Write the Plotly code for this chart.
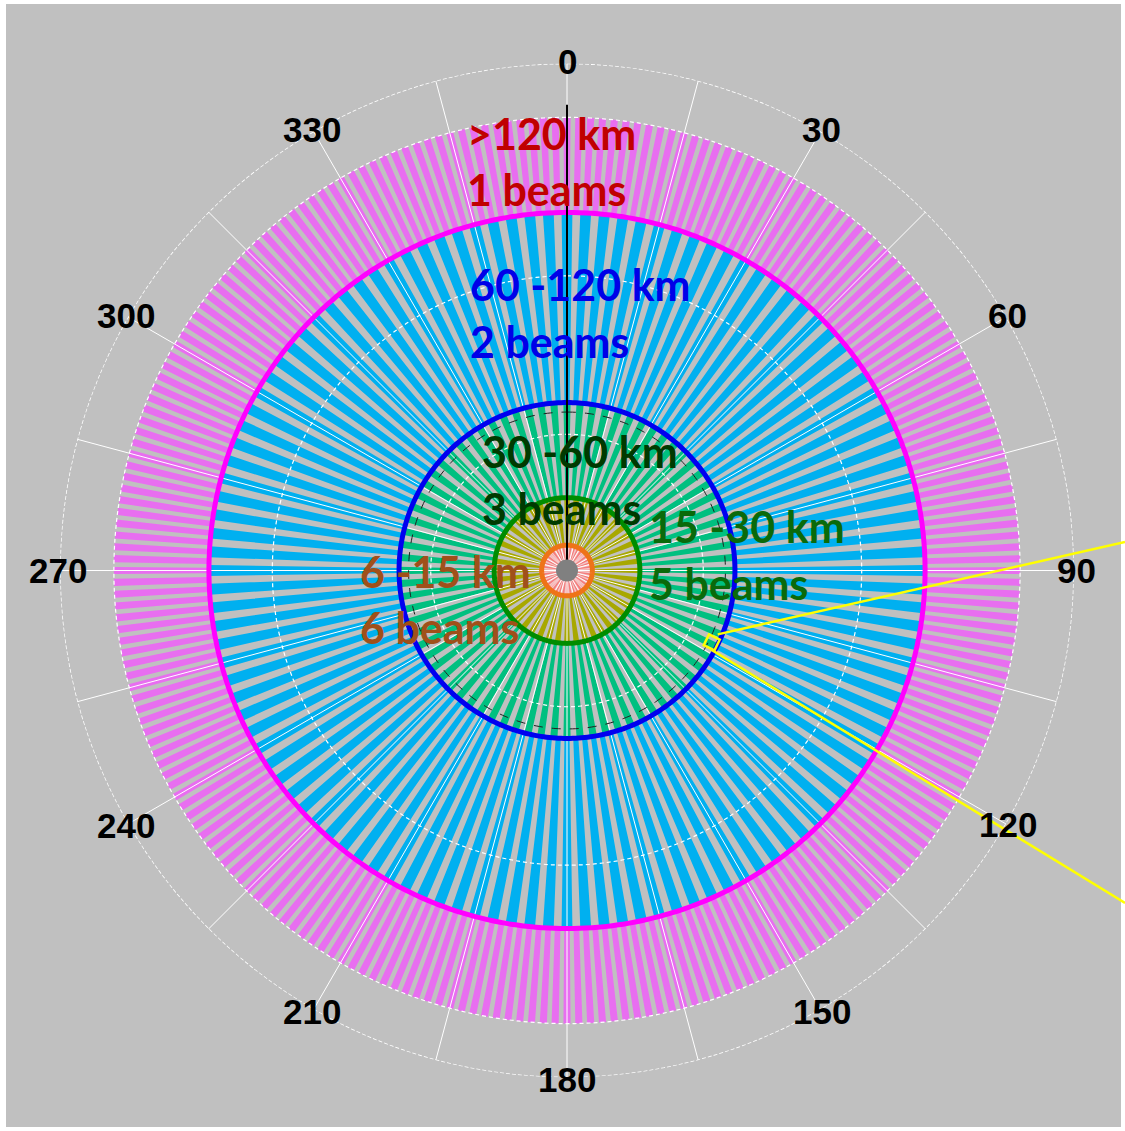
import math
import plotly.graph_objects as go

# ---- data -------------------------------------------------------------
band_inner_km = [6, 15, 30, 60, 120]
band_outer_km = [15, 30, 60, 120, 150]
beams_per_cell = [6, 5, 3, 2, 1]
band_colors = ["#F47C7C", "#A8A800", "#00C080", "#00B0F0", "#E86EF0"]
band_names = ["6 -15 km", "15 -30 km", "30 -60 km", "60 -120 km", ">120 km"]
beam_step_deg = 1.5          # angular width of one beam
bar_fill = [0.55, 0.6, 0.55, 0.58, 0.6]   # coloured share of each cell

ring_km = [15, 30, 60, 120]
ring_colors = ["#EE7318", "#008C00", "#0000F0", "#FF00FF"]
grid_km = [50, 100, 150]
spoke_deg = list(range(0, 360, 15))
angle_labels = list(range(0, 360, 30))
inner_dashed_km = 57
pointer_km = 154
marker_km, marker_deg = 58, 116.4

label_lines = [
    (">120 km", "1 beams", "#C00000"),
    ("60 -120 km", "2 beams", "#0000E8"),
    ("30 -60 km", "3 beams", "#003A00"),
    ("15 -30 km", "5 beams", "#0A6A0A"),
    ("6 -15 km", "6 beams", "#A0501A"),
]

# ---- page geometry (pixels) --------------------------------------------
W, H = 1125, 1131
CX, CY, RPX = 567, 570.5, 507
R_MIN, R_MAX = 7, 167


def to_paper(px, py):
    return px / W, 1 - py / H


def polar_px(r_km, deg):
    rp = (r_km - R_MIN) / (R_MAX - R_MIN) * RPX
    a = math.radians(deg)
    return CX + rp * math.sin(a), CY - rp * math.cos(a)


fig = go.Figure()

# beam cells of every range band
for lo, hi, nb, col, name, fill in zip(band_inner_km, band_outer_km, beams_per_cell,
                                       band_colors, band_names, bar_fill):
    cell = beam_step_deg * nb
    n = int(round(360 / cell))
    thetas = [i * cell for i in range(n)]
    if lo == 6:
        fig.add_trace(go.Barpolar(theta=[0], r=[hi - lo], base=[lo], width=[360],
                                  marker=dict(color="#F2C9C9", line=dict(width=0)),
                                  hoverinfo="skip"))
    fig.add_trace(go.Barpolar(theta=thetas, r=[hi - lo] * n, base=[lo] * n,
                              width=[cell * fill] * n, name=name,
                              marker=dict(color=col, line=dict(width=0))))

circle_theta = [i for i in range(0, 361)]

# white spokes and dashed range circles
sp_r, sp_t = [], []
for d in spoke_deg:
    sp_r += [R_MIN, R_MAX, None]
    sp_t += [d, d, None]
fig.add_trace(go.Scatterpolar(r=sp_r, theta=sp_t, mode="lines",
                              line=dict(color="white", width=1), hoverinfo="skip"))
for g in grid_km:
    fig.add_trace(go.Scatterpolar(r=[g] * len(circle_theta), theta=circle_theta,
                                  mode="lines", line=dict(color="white", width=1.2, dash="4px,3px"),
                                  hoverinfo="skip"))
fig.add_trace(go.Scatterpolar(r=[R_MAX] * len(circle_theta), theta=circle_theta,
                              mode="lines", cliponaxis=False,
                              line=dict(color="white", width=1.6, dash="4px,2px"),
                              hoverinfo="skip"))
fig.add_trace(go.Scatterpolar(r=[inner_dashed_km] * len(circle_theta), theta=circle_theta,
                              mode="lines", line=dict(color="#202020", width=1, dash="dash"),
                              hoverinfo="skip"))

# band boundary rings
for rk, rc in zip(ring_km, ring_colors):
    fig.add_trace(go.Scatterpolar(r=[rk] * len(circle_theta), theta=circle_theta,
                                  mode="lines", line=dict(color=rc, width=5),
                                  hoverinfo="skip"))

# pointer and centre disk
fig.add_trace(go.Scatterpolar(r=[R_MIN, pointer_km], theta=[0, 0], mode="lines",
                              line=dict(color="black", width=2), hoverinfo="skip"))
fig.add_trace(go.Scatterpolar(r=[R_MIN], theta=[0], mode="markers",
                              marker=dict(color="#808080", size=22), hoverinfo="skip"))
fig.add_trace(go.Scatterpolar(r=[marker_km], theta=[marker_deg], mode="markers",
                              marker=dict(symbol="square-open", size=12, angle=26,
                                          color="#FFFF00", line=dict(width=2.5, color="#FFFF00")),
                              hoverinfo="skip"))

# callout lines from the selected cell
mx, my = polar_px(marker_km, marker_deg)
callouts = [((mx + 6, my - 8), (W, 542)), ((mx - 1, my + 7), (W, 903))]
shapes = [dict(type="rect", xref="paper", yref="paper", x0=6 / W, x1=1121 / W,
               y0=1 - 1127 / H, y1=1 - 4 / H, fillcolor="#C0C0C0",
               line=dict(width=0), layer="below")]
for (x0, y0), (x1, y1) in callouts:
    a0, b0 = to_paper(x0, y0)
    a1, b1 = to_paper(x1, y1)
    shapes.append(dict(type="line", xref="paper", yref="paper", x0=a0, y0=b0,
                       x1=a1, y1=b1, line=dict(color="#FFFF00", width=2.5)))

annotations = []
# angle labels around the outer circle
for d in angle_labels:
    a = math.radians(d)
    px, py = CX + (RPX + 2) * math.sin(a), CY - (RPX + 2) * math.cos(a)
    x, y = to_paper(px, py)
    annotations.append(dict(x=x, y=y, xref="paper", yref="paper", text=str(d),
                            showarrow=False, xanchor="center", yanchor="middle",
                            font=dict(family="Liberation Sans, Arial", size=35,
                                      color="black", weight="bold")))

# range-band captions
caption_pos = [(465, 132), (468, 283), (480, 450), (647, 525), (358, 570)]
for (l1, l2, col), (px, py) in zip(label_lines, caption_pos):
    for i, txt in enumerate((l1, l2)):
        x, y = to_paper(px, py + 1 + i * 57)
        annotations.append(dict(x=x, y=y, xref="paper", yref="paper", text=txt,
                                showarrow=False, xanchor="left", yanchor="middle",
                                font=dict(family="Lato", size=43, color=col,
                                          weight="bold")))

dx0, dy0 = to_paper(CX - RPX, CY + RPX)
dx1, dy1 = to_paper(CX + RPX, CY - RPX)

fig.update_layout(
    width=W, height=H, margin=dict(l=0, r=0, t=0, b=0),
    paper_bgcolor="white", showlegend=False,
    shapes=shapes, annotations=annotations,
    polar=dict(
        domain=dict(x=[dx0, dx1], y=[dy0, dy1]),
        bgcolor="#C0C0C0", barmode="overlay",
        radialaxis=dict(range=[R_MIN, R_MAX], showgrid=False, showline=False,
                        showticklabels=False, ticks=""),
        angularaxis=dict(rotation=90, direction="clockwise", showgrid=False,
                         showline=False, showticklabels=False, ticks=""),
    ),
)

fig.write_html("out.html")
